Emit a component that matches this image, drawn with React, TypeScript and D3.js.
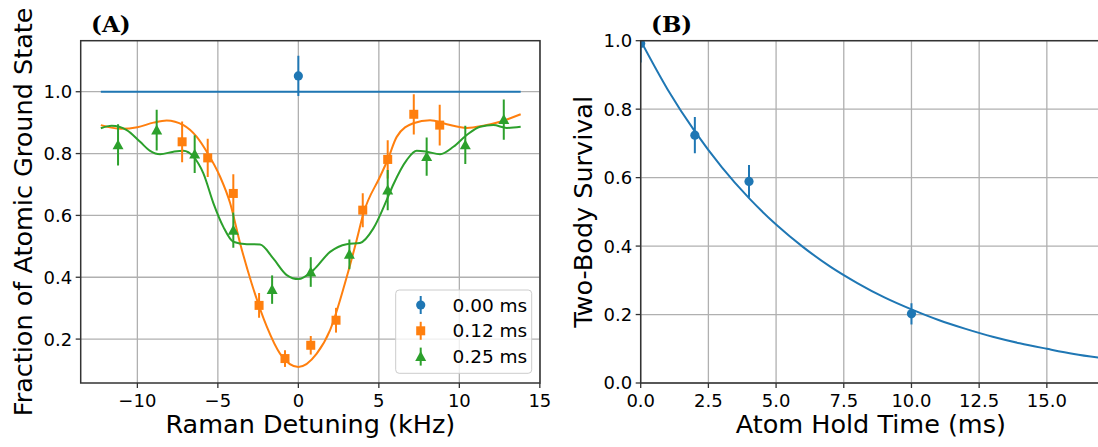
import React from "react";
import * as d3 from "d3";

// ---------- Panel A data ----------
const blueX = [0];
const blueY = [1.051];
const blueErr = [0.065];
const blueFitX = [-12.27, 13.81];
const blueFitY = [1.0, 1.0];

const orangeX = [-7.22, -5.63, -4.04, -2.44, -0.83, 0.77, 2.34, 4.0, 5.55, 7.17, 8.78];
const orangeY = [0.838, 0.786, 0.671, 0.309, 0.137, 0.18, 0.261, 0.617, 0.781, 0.927, 0.892];
const orangeErr = [0.066, 0.062, 0.062, 0.04, 0.027, 0.03, 0.04, 0.055, 0.062, 0.065, 0.066];
const orangeFitX = [-12.27, -11.0, -10.0, -9.0, -8.18, -7.14, -6.31, -5.69, -4.86, -4.24, -3.62, -2.9, -1.96, -1.14, 0, 1.14, 1.97, 3.0, 3.62, 4.04, 5.07, 5.55, 6.11, 7.14, 8.18, 9.22, 10.46, 11.49, 12.53, 13.81];
const orangeFitY = [0.892, 0.88, 0.885, 0.9, 0.907, 0.892, 0.854, 0.806, 0.725, 0.64, 0.51, 0.38, 0.24, 0.153, 0.11, 0.153, 0.229, 0.4, 0.52, 0.606, 0.725, 0.78, 0.854, 0.898, 0.908, 0.895, 0.883, 0.89, 0.903, 0.927];

const greenX = [-11.2, -8.8, -6.44, -4.04, -1.63, 0.77, 3.17, 5.55, 7.97, 10.37, 12.76];
const greenY = [0.828, 0.876, 0.798, 0.552, 0.36, 0.417, 0.474, 0.682, 0.79, 0.828, 0.91];
const greenErr = [0.067, 0.066, 0.061, 0.057, 0.046, 0.048, 0.048, 0.065, 0.062, 0.062, 0.065];
const greenFitX = [-12.27, -11.6, -10.66, -9.83, -9.21, -8.59, -7.76, -7.14, -6.52, -5.9, -5.28, -4.66, -4.04, -3.2, -2.38, -1.55, -0.72, 0, 0.93, 1.97, 3.0, 3.83, 4.66, 5.49, 5.9, 6.73, 7.35, 7.97, 8.8, 9.63, 10.46, 11.29, 12.11, 12.94, 13.81];
const greenFitY = [0.882, 0.89, 0.876, 0.838, 0.809, 0.798, 0.806, 0.809, 0.79, 0.736, 0.64, 0.563, 0.515, 0.507, 0.506, 0.46, 0.407, 0.394, 0.423, 0.482, 0.507, 0.511, 0.558, 0.65, 0.7, 0.779, 0.809, 0.806, 0.798, 0.822, 0.86, 0.887, 0.892, 0.883, 0.887];

const legendLabels = ["0.00 ms", "0.12 ms", "0.25 ms"];
const aXTicks = [-10, -5, 0, 5, 10, 15];
const aYTicks = [0.2, 0.4, 0.6, 0.8, 1.0];

// ---------- Panel B data ----------
const survX = [0, 2, 4, 10];
const survY = [0.992, 0.724, 0.589, 0.202];
const survErr = [0.056, 0.053, 0.048, 0.031];
const survFitX = [0, 1, 2, 3, 4, 5, 6, 7, 8, 9, 10, 11, 12, 13, 14, 15, 16, 17];
const survFitY = [1.0, 0.857, 0.735, 0.63, 0.54, 0.463, 0.397, 0.34, 0.292, 0.25, 0.215, 0.184, 0.158, 0.135, 0.116, 0.1, 0.085, 0.073];
const bXTicks = [0, 2.5, 5, 7.5, 10, 12.5, 15];
const bYTicks = [0, 0.2, 0.4, 0.6, 0.8, 1.0];

const C_BLUE = "#1f77b4";
const C_ORANGE = "#ff7f0e";
const C_GREEN = "#2ca02c";
const FONT = "DejaVu Sans, sans-serif";

const W = 1098;
const H = 447;
const TOP = 40.7;
const BOTTOM = 383;

const fmtMinus = (v: number, f: (n: number) => string) => f(v).replace("-", "\u2212");

type MarkerKind = "circle" | "square" | "triangle";

function Marker({ kind, x, y, color }: { kind: MarkerKind; x: number; y: number; color: string }) {
  if (kind === "circle") return <circle cx={x} cy={y} r={4.6} fill={color} />;
  if (kind === "square") return <rect x={x - 4.5} y={y - 4.5} width={9} height={9} fill={color} />;
  const s = 5.5;
  return <path d={`M${x},${y - s}L${x + s},${y + s * 0.8}L${x - s},${y + s * 0.8}Z`} fill={color} />;
}

function Series({ xs, ys, es, kind, color, xs2, ys2, x, y }: any) {
  return (
    <g>
      {xs.map((v: number, i: number) => (
        <line key={"e" + i} x1={x(v)} x2={x(v)} y1={y(ys[i] + es[i])} y2={y(ys[i] - es[i])} stroke={color} strokeWidth={2} />
      ))}
      {xs.map((v: number, i: number) => (
        <Marker key={"m" + i} kind={kind} x={x(v)} y={y(ys[i])} color={color} />
      ))}
    </g>
  );
}

function Fit({ xs, ys, x, y, color, curve }: any) {
  const pts: [number, number][] = xs.map((v: number, i: number) => [v, ys[i]]);
  const gen = d3.line<[number, number]>().x((d) => x(d[0])).y((d) => y(d[1])).curve(curve);
  return <path d={gen(pts) || ""} fill="none" stroke={color} strokeWidth={2} />;
}

export default function App() {
  // Panel A
  const aL = 80.7, aR = 540;
  const xA = d3.scaleLinear().domain([-13.52, 15.01]).range([aL, aR]);
  const yA = d3.scaleLinear().domain([0.058, 1.165]).range([BOTTOM, TOP]);
  // Panel B
  const bL = 640.7, bR = 1101;
  const xB = d3.scaleLinear().domain([0, 17]).range([bL, bR]);
  const yB = d3.scaleLinear().domain([0, 1]).range([BOTTOM, TOP]);

  const gridColor = "#b0b0b0";
  const spine = "#333333";
  const tickFont = 18;
  const labelFont = 25.5;

  const legendRows = [
    { kind: "circle" as MarkerKind, color: C_BLUE, label: legendLabels[0] },
    { kind: "square" as MarkerKind, color: C_ORANGE, label: legendLabels[1] },
    { kind: "triangle" as MarkerKind, color: C_GREEN, label: legendLabels[2] },
  ];
  const lgX = 395.7, lgY = 290, lgW = 136, lgH = 83.3;

  return (
    <svg width={W} height={H} style={{ position: "absolute", left: 0, top: 0, background: "#fff" }} fontFamily={FONT}>
      <defs>
        <clipPath id="clipA"><rect x={aL} y={TOP} width={aR - aL} height={BOTTOM - TOP} /></clipPath>
        <clipPath id="clipB"><rect x={bL} y={TOP} width={bR - bL} height={BOTTOM - TOP} /></clipPath>
      </defs>
      <rect x={0} y={0} width={W} height={H} fill="#fff" />

      {/* ===== Panel A ===== */}
      <g>
        {aXTicks.map((t) => (
          <line key={"gx" + t} x1={xA(t)} x2={xA(t)} y1={TOP} y2={BOTTOM} stroke={gridColor} strokeWidth={1.3} />
        ))}
        {aYTicks.map((t) => (
          <line key={"gy" + t} x1={aL} x2={aR} y1={yA(t)} y2={yA(t)} stroke={gridColor} strokeWidth={1.3} />
        ))}
        <g clipPath="url(#clipA)">
          <Fit xs={blueFitX} ys={blueFitY} x={xA} y={yA} color={C_BLUE} curve={d3.curveLinear} />
          <Fit xs={orangeFitX} ys={orangeFitY} x={xA} y={yA} color={C_ORANGE} curve={d3.curveMonotoneX} />
          <Fit xs={greenFitX} ys={greenFitY} x={xA} y={yA} color={C_GREEN} curve={d3.curveMonotoneX} />
          <Series xs={blueX} ys={blueY} es={blueErr} kind="circle" color={C_BLUE} x={xA} y={yA} />
          <Series xs={orangeX} ys={orangeY} es={orangeErr} kind="square" color={C_ORANGE} x={xA} y={yA} />
          <Series xs={greenX} ys={greenY} es={greenErr} kind="triangle" color={C_GREEN} x={xA} y={yA} />
        </g>
        <rect x={aL} y={TOP} width={aR - aL} height={BOTTOM - TOP} fill="none" stroke={spine} strokeWidth={1.5} />
        {aXTicks.map((t) => (
          <g key={"tx" + t}>
            <line x1={xA(t)} x2={xA(t)} y1={BOTTOM} y2={BOTTOM + 5} stroke={spine} strokeWidth={1.3} />
            <text x={xA(t)} y={407} fontSize={tickFont} textAnchor="middle" fill="#000">{fmtMinus(t, d3.format("d"))}</text>
          </g>
        ))}
        {aYTicks.map((t) => (
          <g key={"ty" + t}>
            <line x1={aL - 5} x2={aL} y1={yA(t)} y2={yA(t)} stroke={spine} strokeWidth={1.3} />
            <text x={aL - 8.5} y={yA(t)} dy="0.36em" fontSize={tickFont} textAnchor="end" fill="#000">{d3.format(".1f")(t)}</text>
          </g>
        ))}
        <text x={(aL + aR) / 2} y={433} fontSize={labelFont} textAnchor="middle" fill="#000">Raman Detuning (kHz)</text>
        <text transform={`translate(32,${(TOP + BOTTOM) / 2}) rotate(-90)`} fontSize={labelFont} textAnchor="middle" fill="#000">Fraction of Atomic Ground State</text>
        <text x={91} y={31.5} fontSize={23} fontFamily="DejaVu Serif, serif" fontWeight="bold" fill="#000">(A)</text>

        {/* legend */}
        <rect x={lgX} y={lgY} width={lgW} height={lgH} rx={3.5} fill="#fff" fillOpacity={0.8} stroke="#cccccc" strokeWidth={1} />
        {legendRows.map((r, i) => {
          const cy = 305 + i * 25.8;
          return (
            <g key={"lg" + i}>
              <line x1={420.7} x2={420.7} y1={cy - 9} y2={cy + 9} stroke={r.color} strokeWidth={2} />
              <Marker kind={r.kind} x={420.7} y={cy} color={r.color} />
              <text x={452.5} y={cy} dy="0.36em" fontSize={18.5} fill="#000">{r.label}</text>
            </g>
          );
        })}
      </g>

      {/* ===== Panel B ===== */}
      <g>
        {bXTicks.map((t) => (
          <line key={"gx" + t} x1={xB(t)} x2={xB(t)} y1={TOP} y2={BOTTOM} stroke={gridColor} strokeWidth={1.3} />
        ))}
        {bYTicks.map((t) => (
          <line key={"gy" + t} x1={bL} x2={bR} y1={yB(t)} y2={yB(t)} stroke={gridColor} strokeWidth={1.3} />
        ))}
        <g clipPath="url(#clipB)">
          <Fit xs={survFitX} ys={survFitY} x={xB} y={yB} color={C_BLUE} curve={d3.curveMonotoneX} />
          <Series xs={survX} ys={survY} es={survErr} kind="circle" color={C_BLUE} x={xB} y={yB} />
        </g>
        <rect x={bL} y={TOP} width={bR - bL} height={BOTTOM - TOP} fill="none" stroke={spine} strokeWidth={1.5} />
        {bXTicks.map((t) => (
          <g key={"tx" + t}>
            <line x1={xB(t)} x2={xB(t)} y1={BOTTOM} y2={BOTTOM + 5} stroke={spine} strokeWidth={1.3} />
            <text x={xB(t)} y={407} fontSize={tickFont} textAnchor="middle" fill="#000">{d3.format(".1f")(t)}</text>
          </g>
        ))}
        {bYTicks.map((t) => (
          <g key={"ty" + t}>
            <line x1={bL - 5} x2={bL} y1={yB(t)} y2={yB(t)} stroke={spine} strokeWidth={1.3} />
            <text x={bL - 8.5} y={yB(t)} dy="0.36em" fontSize={tickFont} textAnchor="end" fill="#000">{d3.format(".1f")(t)}</text>
          </g>
        ))}
        <text x={(bL + bR) / 2} y={433} fontSize={labelFont} textAnchor="middle" fill="#000">Atom Hold Time (ms)</text>
        <text transform={`translate(592,${(TOP + BOTTOM) / 2}) rotate(-90)`} fontSize={labelFont} textAnchor="middle" fill="#000">Two-Body Survival</text>
        <text x={651} y={31.5} fontSize={23} fontFamily="DejaVu Serif, serif" fontWeight="bold" fill="#000">(B)</text>
      </g>
    </svg>
  );
}
